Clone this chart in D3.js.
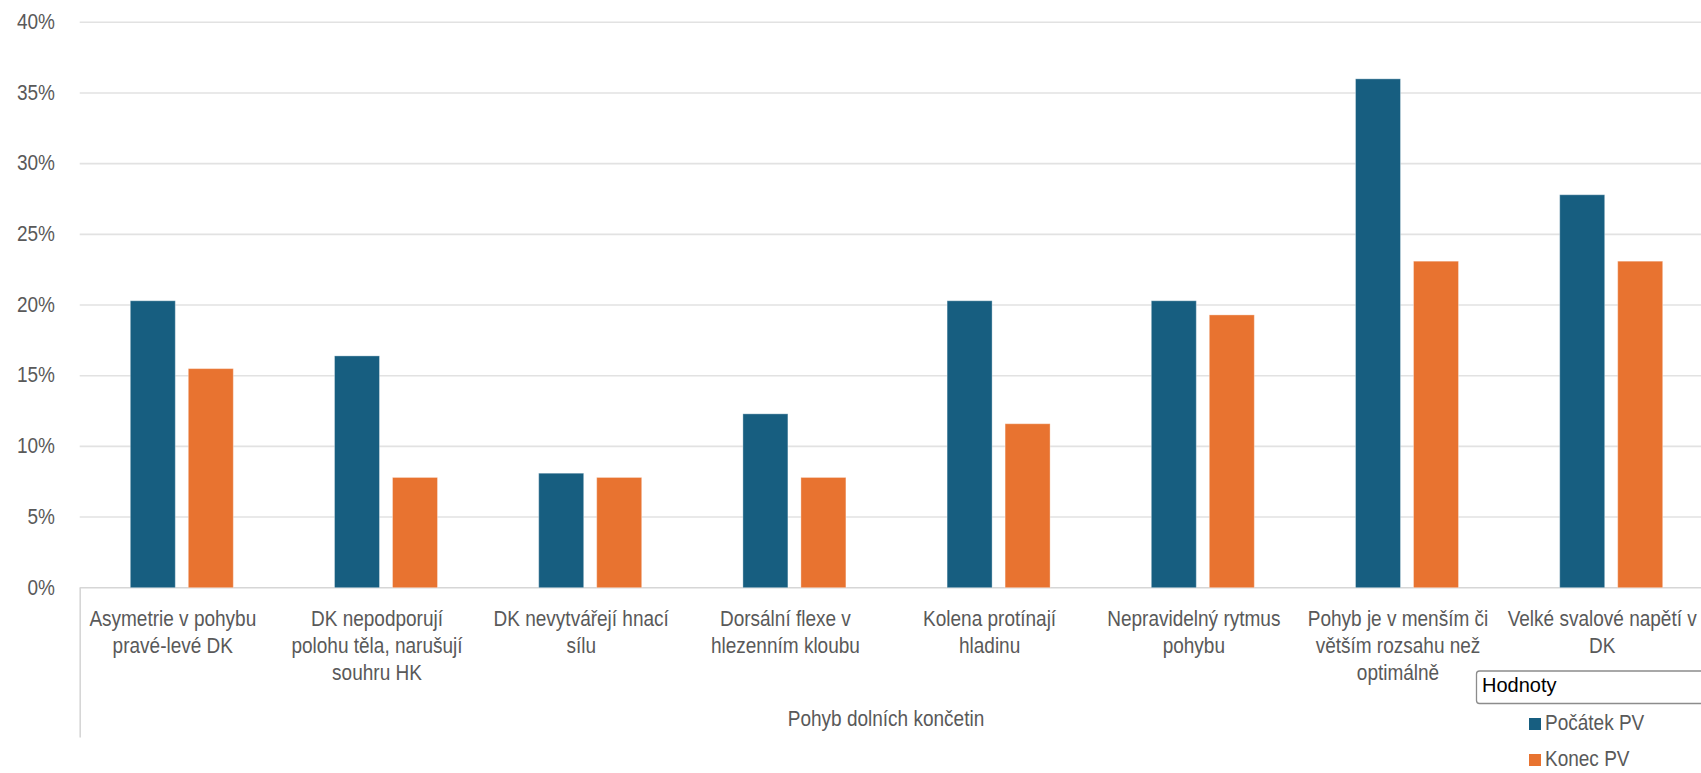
<!DOCTYPE html>
<html>
<head>
<meta charset="utf-8">
<script src="https://cdn.jsdelivr.net/npm/d3@7"></script>
<style>
  html, body { margin: 0; padding: 0; background: #ffffff; }
  svg { display: block; }
  .narrow { font-family: "Liberation Sans", Arial, sans-serif; }
</style>
</head>
<body>
<svg id="chart" width="1701" height="773"></svg>
<script>
// ---- data ----
const categories = [
  "Asymetrie v pohybu pravé-levé DK",
  "DK nepodporují polohu těla, narušují souhru HK",
  "DK nevytvářejí hnací sílu",
  "Dorsální flexe v hlezenním kloubu",
  "Kolena protínají hladinu",
  "Nepravidelný rytmus pohybu",
  "Pohyb je v menším či větším rozsahu než optimálně",
  "Velké svalové napětí v DK"
];
const categoryLines = [
  ["Asymetrie v pohybu", "pravé-levé DK"],
  ["DK nepodporují", "polohu těla, narušují", "souhru HK"],
  ["DK nevytvářejí hnací", "sílu"],
  ["Dorsální flexe v", "hlezenním kloubu"],
  ["Kolena protínají", "hladinu"],
  ["Nepravidelný rytmus", "pohybu"],
  ["Pohyb je v menším či", "větším rozsahu než", "optimálně"],
  ["Velké svalové napětí v", "DK"]
];
const seriesNames = ["Počátek PV", "Konec PV"];
const pocatekPV = [20.3, 16.4, 8.1, 12.3, 20.3, 20.3, 36.0, 27.8];
const konecPV   = [15.5, 7.8, 7.8, 7.8, 11.6, 19.3, 23.1, 23.1];
const yTicks = [0, 5, 10, 15, 20, 25, 30, 35, 40];
const axisTitle = "Pohyb dolních končetin";
const legendTitle = "Hodnoty";

// ---- layout ----
const W = 1701, H = 773;
const left = 79.7, step = 204.2;
const yTop = 22.3, yBottom = 587.7;
const SX = 0.845; // horizontal condensation to imitate a narrow face
const FS = 22.5;
const labelShift = -9;
const colors = { "Počátek PV": "#175e80", "Konec PV": "#e87330" };
const seriesValues = { "Počátek PV": pocatekPV, "Konec PV": konecPV };

const svg = d3.select("#chart");
svg.append("rect").attr("width", W).attr("height", H).attr("fill", "#ffffff");

const x0 = d3.scaleBand().domain(categories).range([left, left + step * categories.length]).padding(0);
const groupW = 103;
const x1 = d3.scaleBand().domain(seriesNames)
  .range([(x0.bandwidth() - groupW) / 2, (x0.bandwidth() + groupW) / 2])
  .paddingInner(13 / 58).paddingOuter(0);
const y = d3.scaleLinear().domain([0, 40]).range([yBottom, yTop]);

// gridlines
svg.append("g").selectAll("line").data(yTicks).join("line")
  .attr("x1", left).attr("x2", W)
  .attr("y1", d => y(d)).attr("y2", d => y(d))
  .attr("stroke", d => d === 0 ? "#d6d6d6" : "#e2e2e2")
  .attr("stroke-width", 1.6);

// y axis labels
const yAxis = d3.axisLeft(y).tickValues(yTicks).tickSize(0).tickPadding(0).tickFormat(d => d + "%");
const gy = svg.append("g").attr("transform", "translate(55,0)").call(yAxis);
gy.select(".domain").remove();
gy.selectAll("text")
  .attr("class", "narrow")
  .attr("font-size", FS)
  .attr("fill", "#595959")
  .attr("x", 0)
  .attr("dy", "0.28em")
  .attr("transform", `scale(${SX},1)`);

// vertical axis line (left) extending below
svg.append("line")
  .attr("x1", left + 0.5).attr("x2", left + 0.5)
  .attr("y1", yBottom).attr("y2", 737.5)
  .attr("stroke", "#d6d6d6").attr("stroke-width", 1.6);

// bars
const groups = svg.append("g").selectAll("g").data(categories).join("g")
  .attr("transform", d => `translate(${x0(d)},0)`);
groups.selectAll("rect")
  .data((d, i) => seriesNames.map(s => ({ s, v: seriesValues[s][i] })))
  .join("rect")
  .attr("x", d => x1(d.s))
  .attr("width", x1.bandwidth())
  .attr("y", d => y(d.v))
  .attr("height", d => y(0) - y(d.v))
  .attr("fill", d => colors[d.s])
  .attr("stroke", "rgba(255,255,255,0.35)")
  .attr("stroke-width", 1);

// x axis labels
const xAxis = d3.axisBottom(x0).tickSize(0).tickPadding(0).tickFormat("");
const gx = svg.append("g").attr("transform", `translate(0,${yBottom})`).call(xAxis);
gx.select(".domain").remove();
gx.selectAll(".tick").each(function(d, i) {
  const bandCenter = x0(d) + x0.bandwidth() / 2;
  const g = d3.select(this).append("g");
  const t = g.append("text")
    .attr("class", "narrow")
    .attr("font-size", FS)
    .attr("fill", "#595959")
    .attr("text-anchor", "middle")
    .attr("transform", `scale(${SX},1)`);
  categoryLines[i].forEach((line, k) => {
    t.append("tspan").attr("x", 0).attr("y", 38 + k * 27).text(line);
  });
  const w = t.node().getBBox().width * SX;
  let center = bandCenter + labelShift;
  if (center + w / 2 > W - 4) center = W - 4 - w / 2;
  g.attr("transform", `translate(${center - bandCenter},0)`);
});

// axis title
svg.append("g").attr("transform", "translate(886,726)")
  .append("text")
  .attr("class", "narrow")
  .attr("font-size", FS)
  .attr("fill", "#595959")
  .attr("text-anchor", "middle")
  .attr("transform", `scale(${SX},1)`)
  .text(axisTitle);

// legend
const lg = svg.append("g");
lg.append("rect")
  .attr("x", 1476.5).attr("y", 671).attr("width", 234).attr("height", 32.5)
  .attr("rx", 3).attr("ry", 3)
  .attr("fill", "#ffffff").attr("stroke", "#8c8c8c").attr("stroke-width", 1.3);
lg.append("text")
  .attr("x", 1482).attr("y", 692)
  .attr("font-family", "'Liberation Sans', Arial, sans-serif")
  .attr("font-size", 20)
  .attr("fill", "#000000")
  .text(legendTitle);
const items = lg.selectAll("g.item").data(seriesNames).join("g")
  .attr("class", "item")
  .attr("transform", (d, i) => `translate(1529,${718 + i * 36})`);
items.append("rect").attr("width", 12).attr("height", 12).attr("fill", d => colors[d]);
items.append("g").attr("transform", "translate(16,11.5)")
  .append("text")
  .attr("class", "narrow")
  .attr("font-size", FS)
  .attr("fill", "#595959")
  .attr("transform", `scale(${SX},1)`)
  .text(d => d);
</script>
</body>
</html>
